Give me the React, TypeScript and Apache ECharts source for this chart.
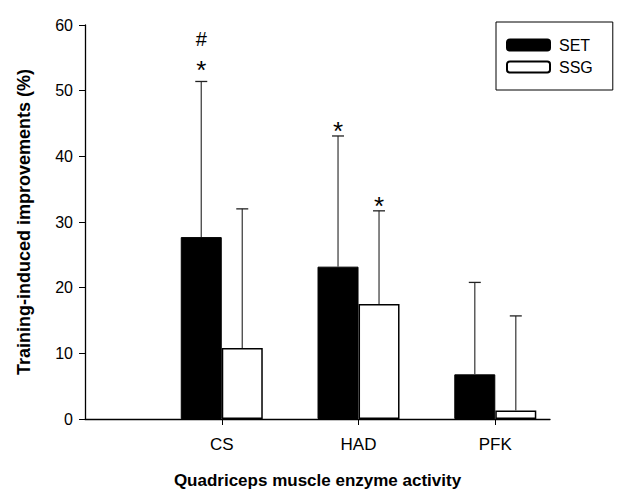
import React, { useEffect, useRef } from "react";
import * as echarts from "echarts";

const categories = ["CS", "HAD", "PFK"];
const setValues = [27.7, 23.2, 6.8];
const ssgValues = [10.8, 17.5, 1.3];
const setErrTop = [51.4, 43.1, 20.8];
const ssgErrTop = [32.0, 31.7, 15.7];
const setStar = [true, true, false];
const ssgStar = [false, true, false];
const setHash = [true, false, false];
const ssgHash = [false, false, false];
const yTicks = [0, 10, 20, 30, 40, 50, 60];

const FONT = "'Liberation Sans', Arial, sans-serif";
const BAR_W = 41;

function errSeries(name: string, values: number[], tops: number[], stars: boolean[], hashes: boolean[], offset: number) {
  return {
    type: "custom",
    name: name + "-err",
    z: 5,
    silent: true,
    data: values.map((v, i) => [i + 1, v, tops[i]]),
    renderItem: (params: any, api: any) => {
      const i = params.dataIndex;
      const x = api.value(0);
      const base = api.coord([x, api.value(1)]);
      const top = api.coord([x, api.value(2)]);
      const cx = base[0] + offset;
      const children: any[] = [
        { type: "line", shape: { x1: cx, y1: base[1], x2: cx, y2: top[1] }, style: { stroke: "#444", lineWidth: 1.3 } },
        { type: "line", shape: { x1: cx - 6, y1: top[1], x2: cx + 6, y2: top[1] }, style: { stroke: "#222", lineWidth: 1.3 } },
      ];
      if (stars[i]) {
        const lift = hashes[i] ? 6 : 0;
        children.push({
          type: "text",
          style: {
            text: "*",
            x: cx,
            y: top[1] - 5 - lift,
            align: "center",
            verticalAlign: "middle",
            font: "26px " + FONT,
            fill: "#000",
          },
        });
      }
      if (hashes[i]) {
        children.push({
          type: "text",
          style: {
            text: "#",
            x: cx,
            y: top[1] - 42,
            align: "center",
            verticalAlign: "middle",
            font: "20px " + FONT,
            fill: "#000",
          },
        });
      }
      return { type: "group", children };
    },
  };
}

export default function App() {
  const ref = useRef<HTMLDivElement>(null);
  useEffect(() => {
    if (!ref.current) return;
    const chart = echarts.init(ref.current, undefined, { renderer: "svg" });
    chart.setOption({
      animation: false,
      backgroundColor: "#fff",
      textStyle: { fontFamily: FONT },
      grid: { left: 85, right: 70, top: 25, bottom: 71, containLabel: false, outerBoundsMode: "none" },
      legend: {
        orient: "vertical",
        left: 496,
        top: 22,
        padding: [15, 20, 15, 10],
        itemGap: 6,
        itemWidth: 43,
        itemHeight: 11,
        borderColor: "#000",
        borderWidth: 1,
        textStyle: { fontSize: 16, color: "#000", fontFamily: FONT, padding: [0, 0, 0, 4] },
        data: ["SET", "SSG"],
      },
      xAxis: {
        type: "value",
        min: 0,
        max: 3.4,
        interval: 1,
        name: "Quadriceps muscle enzyme activity",
        nameLocation: "middle",
        nameGap: 53,
        nameTextStyle: { fontSize: 17, fontWeight: "bold", color: "#000", fontFamily: FONT },
        axisLine: { show: true, lineStyle: { color: "#000", width: 1.3 } },
        axisTick: { show: true, length: 6, lineStyle: { color: "#000" }, customValues: [1, 2, 3] },
        axisLabel: {
          fontSize: 17,
          color: "#000",
          margin: 17,
          customValues: [1, 2, 3],
          formatter: (v: number) => categories[Math.round(v) - 1] ?? "",
        },
        splitLine: { show: false },
      },
      yAxis: {
        type: "value",
        min: 0,
        max: 60,
        interval: 10,
        name: "Training-induced improvements (%)",
        nameLocation: "middle",
        nameGap: 52,
        nameTextStyle: { fontSize: 18, fontWeight: "bold", color: "#000", fontFamily: FONT },
        axisLine: { show: true, lineStyle: { color: "#000", width: 1.3 } },
        axisTick: { show: true, length: 6, lineStyle: { color: "#000" } },
        axisLabel: {
          fontSize: 16,
          color: "#000",
          margin: 12,
          formatter: (v: number) => (yTicks.includes(v) ? String(v) : ""),
        },
        splitLine: { show: false },
      },
      series: [
        {
          name: "SET",
          type: "bar",
          barWidth: BAR_W,
          barGap: "0%",
          z: 3,
          itemStyle: { color: "#000", borderColor: "#000", borderWidth: 1 },
          data: setValues.map((v, i) => [i + 1, v]),
        },
        {
          name: "SSG",
          type: "bar",
          barWidth: BAR_W,
          barGap: "0%",
          z: 3,
          itemStyle: { color: "#fff", borderColor: "#000", borderWidth: 1.5 },
          data: ssgValues.map((v, i) => [i + 1, v]),
        },
        errSeries("SET", setValues, setErrTop, setStar, setHash, -BAR_W / 2),
        errSeries("SSG", ssgValues, ssgErrTop, ssgStar, ssgHash, BAR_W / 2),
      ],
    });
    return () => chart.dispose();
  }, []);
  return <div ref={ref} style={{ width: 620, height: 490, position: "absolute", left: 0, top: 0 }} />;
}
